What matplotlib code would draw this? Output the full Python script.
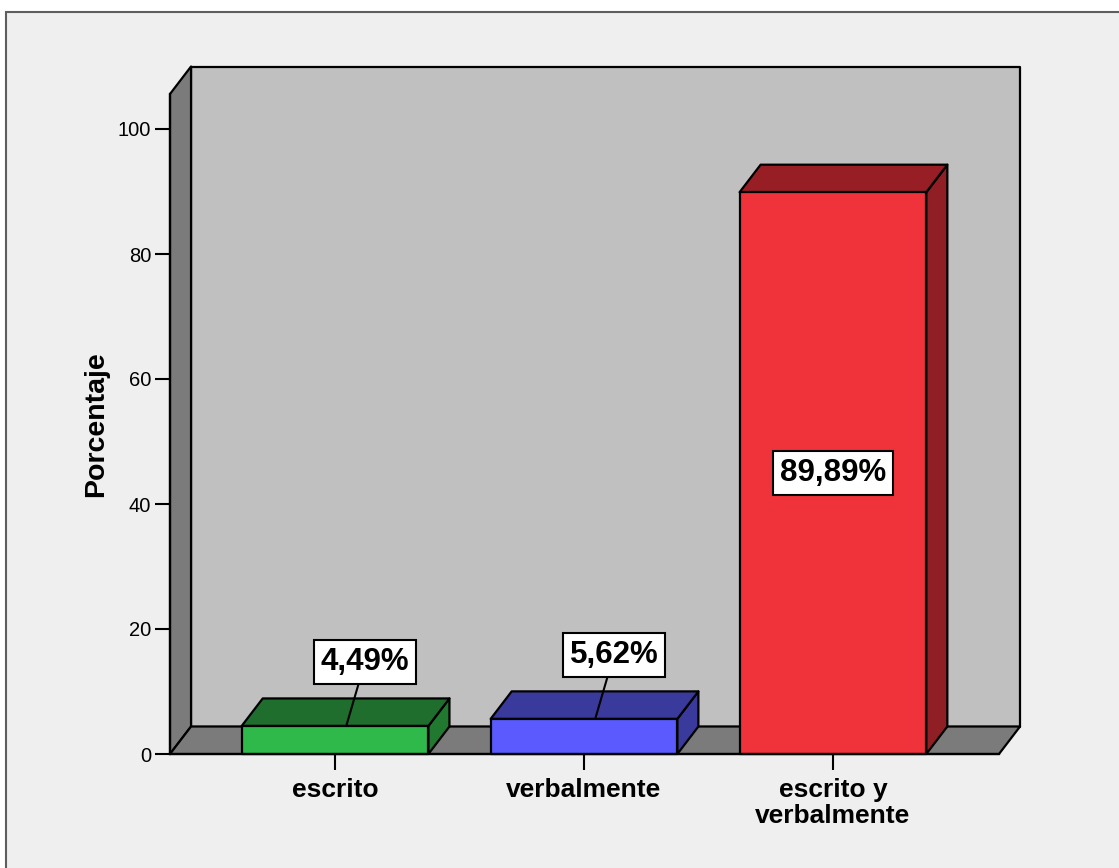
import matplotlib
matplotlib.use("Agg")
import matplotlib.pyplot as plt
from matplotlib.patches import Polygon, Rectangle

plt.rcParams['font.family'] = ['Liberation Sans', 'DejaVu Sans']

# Data
categories = ["escrito", "verbalmente", "escrito y\nverbalmente"]
percentages = [4.49, 5.62, 89.89]
value_labels = ["4,49%", "5,62%", "89,89%"]
y_ticks = [0, 20, 40, 60, 80, 100]

# Colours: (front, top, side)
bar_colors = [
    ("#30b94b", "#1f6e2e", "#21782f"),
    ("#5a5aff", "#3a3a9c", "#3a3a9c"),
    ("#f0333b", "#961e24", "#8f1f24"),
]
wall_back = "#c0c0c0"
wall_side = "#7b7b7b"
bg = "#efefef"

W, H, DPI = 1119, 868, 100
fig = plt.figure(figsize=(W / DPI, H / DPI), dpi=DPI, facecolor="white")

# outer frame of the chart area
fig.patches.append(Rectangle((6 / W, -0.02), 1.05, 1 - 12 / H + 0.02,
                             transform=fig.transFigure, facecolor=bg,
                             edgecolor="#5e5e5e", lw=1.5, zorder=-5))

ax = fig.add_axes([170 / W, (H - 754) / H, 829 / W, 660 / H])
ax.set_facecolor("none")

xmin, xmax = -0.663, 2.667
ymin, ymax = 0, 105.6
ax.set_xlim(xmin, xmax)
ax.set_ylim(ymin, ymax)

# depth of the 3D projection in data units
dx, dy = 0.0845, 4.4
bar_w = 0.75
edge = dict(edgecolor="black", lw=1.6, joinstyle="round", clip_on=False)

# back wall, left wall, floor
ax.add_patch(Polygon([(xmin + dx, dy), (xmax + dx, dy), (xmax + dx, ymax + dy),
                      (xmin + dx, ymax + dy)], facecolor=wall_back, zorder=1, **edge))
ax.add_patch(Polygon([(xmin, 0), (xmin + dx, dy), (xmin + dx, ymax + dy),
                      (xmin, ymax)], facecolor=wall_side, zorder=1, **edge))
ax.add_patch(Polygon([(xmin, 0), (xmax, 0), (xmax + dx, dy), (xmin + dx, dy)],
                     facecolor=wall_side, zorder=1, **edge))

positions = list(range(len(categories)))
for x, v, (cf, ct, cs) in zip(positions, percentages, bar_colors):
    l, r = x - bar_w / 2, x + bar_w / 2
    ax.add_patch(Polygon([(r, 0), (r + dx, dy), (r + dx, v + dy), (r, v)],
                         facecolor=cs, zorder=2, **edge))
    ax.add_patch(Polygon([(l, v), (r, v), (r + dx, v + dy), (l + dx, v + dy)],
                         facecolor=ct, zorder=2, **edge))
    ax.add_patch(Rectangle((l, 0), bar_w, v, facecolor=cf, zorder=3, **edge))

box = dict(boxstyle="square,pad=0.22", facecolor="white", edgecolor="black", lw=1.5)
for x, v, lab in zip(positions, percentages, value_labels):
    if v > 20:
        ax.text(x, v / 2, lab, ha="center", va="center", fontsize=22.5,
                fontweight="bold", bbox=box, zorder=5)
    else:
        ax.annotate(lab, xy=(x + 0.045, v), xytext=(x + 0.12, v + 10.2),
                    ha="center", va="center", fontsize=22.5, fontweight="bold",
                    bbox=box, zorder=5,
                    arrowprops=dict(arrowstyle="-", color="black", lw=1.5,
                                    shrinkA=0, shrinkB=0))

for s in ("top", "right"):
    ax.spines[s].set_visible(False)
for s in ("left", "bottom"):
    ax.spines[s].set_linewidth(1.6)
    ax.spines[s].set_zorder(4)

ax.set_yticks(y_ticks)
ax.set_yticklabels([str(t) for t in y_ticks])
ax.tick_params(axis="y", direction="out", length=11, width=1.5, pad=2.5,
               labelsize=14.5)
ax.set_xticks(positions)
ax.set_xticklabels(categories, fontweight="bold", fontsize=19)
ax.tick_params(axis="x", direction="out", length=11.5, width=1.5, pad=6)
for lbl in ax.get_xticklabels():
    lbl.set_linespacing(1.08)

ax.set_ylabel("Porcentaje", fontsize=20.5, fontweight="bold")
ax.yaxis.set_label_coords(-0.074, 0.5)

fig.savefig("out.png", dpi=DPI, facecolor=fig.get_facecolor())
